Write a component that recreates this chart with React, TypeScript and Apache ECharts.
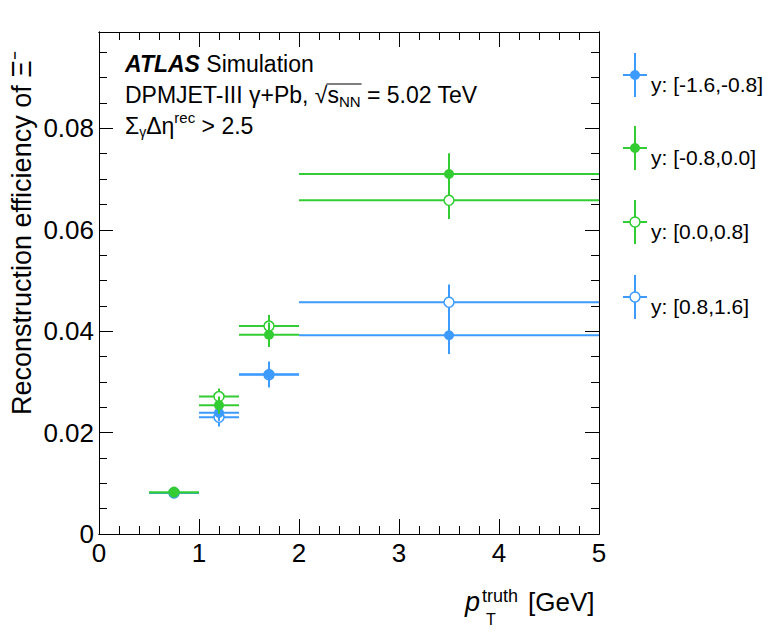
import React, { useEffect, useRef } from "react";
import * as echarts from "echarts";

// ---- data ----
const binCenter = [0.75, 1.2, 1.7, 3.5];
const binLow = [0.5, 1.0, 1.4, 2.0];
const binHigh = [1.0, 1.4, 2.0, 5.0];

const effBlueFilled = [0.0081, 0.0239, 0.0315, 0.0392];
const errBlueFilled = [0.0004, 0.0016, 0.0025, 0.0037];
const effGreenFilled = [0.0082, 0.0254, 0.0393, 0.071];
const errGreenFilled = [0.0004, 0.0017, 0.0024, 0.0041];
const effGreenOpen = [0.0082, 0.0271, 0.041, 0.0658];
const errGreenOpen = [0.0004, 0.0016, 0.0022, 0.0037];
const effBlueOpen = [0.0081, 0.023, 0.0314, 0.0457];
const errBlueOpen = [0.0004, 0.0018, 0.0025, 0.0035];

const legendLabels = ["y: [-1.6,-0.8]", "y: [-0.8,0.0]", "y: [0.0,0.8]", "y: [0.8,1.6]"];
const yTickLabels = ["0", "0.02", "0.04", "0.06", "0.08"];
const xTickLabels = ["0", "1", "2", "3", "4", "5"];

const BLUE = "#3d9bff";
const GREEN = "#33cc33";
const FONT = "'Liberation Sans', Arial, Helvetica, sans-serif";

type Sty = { name: string; eff: number[]; err: number[]; color: string; filled: boolean };
const legendSeries: Sty[] = [
  { name: legendLabels[0], eff: effBlueFilled, err: errBlueFilled, color: BLUE, filled: true },
  { name: legendLabels[1], eff: effGreenFilled, err: errGreenFilled, color: GREEN, filled: true },
  { name: legendLabels[2], eff: effGreenOpen, err: errGreenOpen, color: GREEN, filled: false },
  { name: legendLabels[3], eff: effBlueOpen, err: errBlueOpen, color: BLUE, filled: false },
];
// drawing order: open markers first, filled on top
const drawOrder = [3, 2, 0, 1];

let measureCtx: CanvasRenderingContext2D | null = null;
function textWidth(t: string, font: string) {
  if (!measureCtx) measureCtx = document.createElement("canvas").getContext("2d");
  measureCtx!.font = font;
  return measureCtx!.measureText(t).width;
}

type Piece = { t: string; size: number; italic?: boolean; bold?: boolean; dy?: number };
function fontOf(p: Piece) {
  return `${p.italic ? "italic" : "normal"} ${p.bold ? "bold" : "normal"} ${p.size}px ${FONT}`;
}
function textEl(t: string, font: string, size: number, x: number, baseline: number) {
  return {
    type: "text",
    x,
    y: baseline - 0.3465 * size,
    silent: true,
    style: {
      text: t,
      font,
      fill: "#000",
      align: "left",
      verticalAlign: "middle",
      textAlign: "left",
      textVerticalAlign: "middle",
    },
  };
}
function seq(pieces: Piece[], x0: number, baseline: number) {
  let x = x0;
  const els: any[] = [];
  const xs: number[] = [];
  for (const p of pieces) {
    const f = fontOf(p);
    xs.push(x);
    els.push(textEl(p.t, f, p.size, x, baseline + (p.dy || 0)));
    x += textWidth(p.t, f);
  }
  xs.push(x);
  return { els, xs };
}

export default function App() {
  const ref = useRef<HTMLDivElement>(null);
  useEffect(() => {
    if (!ref.current) return;
    const chart = echarts.init(ref.current, null, { renderer: "svg" });

    const graphics: any[] = [];
    // ATLAS Simulation
    graphics.push(
      ...seq(
        [
          { t: "ATLAS", size: 23, italic: true, bold: true },
          { t: " Simulation", size: 23 },
        ],
        125,
        72
      ).els
    );
    // DPMJET line
    const l2 = seq(
      [
        { t: "DPMJET-III γ+Pb, ", size: 23 },
        { t: "√", size: 23 },
        { t: "s", size: 23 },
        { t: "NN", size: 15, dy: 4 },
        { t: " = 5.02 TeV", size: 23 },
      ],
      125,
      103
    );
    graphics.push(...l2.els);
    graphics.push({
      type: "line",
      silent: true,
      shape: { x1: l2.xs[2] - 1, y1: 84, x2: l2.xs[4] + 1, y2: 84 },
      style: { stroke: "#000", lineWidth: 1.2 },
    });
    // Sigma line
    graphics.push(
      ...seq(
        [
          { t: "Σ", size: 23 },
          { t: "γ", size: 14, dy: 3 },
          { t: "Δη", size: 23 },
          { t: "rec", size: 15, dy: -11 },
          { t: " > 2.5", size: 23 },
        ],
        125,
        134
      ).els
    );
    // x-axis title
    graphics.push(textEl("p", fontOf({ t: "p", size: 27, italic: true }), 27, 465, 611));
    graphics.push(textEl("truth", fontOf({ t: "", size: 18 }), 18, 482, 602));
    graphics.push(textEl("T", fontOf({ t: "", size: 16 }), 16, 486, 625));
    graphics.push(textEl("[GeV]", fontOf({ t: "", size: 26 }), 26, 528, 611));
    // y-axis title (rotated)
    graphics.push({
      type: "text",
      x: 22,
      y: 415,
      rotation: Math.PI / 2,
      silent: true,
      style: {
        text: "Reconstruction efficiency of Ξ⁻",
        font: `normal normal 27px ${FONT}`,
        fill: "#000",
        align: "left",
        verticalAlign: "middle",
        textAlign: "left",
        textVerticalAlign: "middle",
      },
    });
    // legend
    const legY = [75, 148, 222, 297];
    legendSeries.forEach((s, i) => {
      const cx = 635;
      const cy = legY[i];
      graphics.push({
        type: "line",
        silent: true,
        shape: { x1: cx - 12, y1: cy, x2: cx + 12, y2: cy },
        style: { stroke: s.color, lineWidth: 2 },
      });
      graphics.push({
        type: "line",
        silent: true,
        shape: { x1: cx, y1: cy - 22, x2: cx, y2: cy + 22 },
        style: { stroke: s.color, lineWidth: 2 },
      });
      graphics.push({
        type: "circle",
        silent: true,
        shape: { cx, cy, r: 5 },
        style: s.filled
          ? { fill: s.color, stroke: s.color, lineWidth: 0 }
          : { fill: "#fff", stroke: s.color, lineWidth: 1.5 },
      });
      graphics.push(textEl(s.name, fontOf({ t: "", size: 21 }), 21, 651, cy + 17));
    });

    const tickStyle = { color: "#000", width: 1 };
    const baseAxis = {
      type: "value",
      splitLine: { show: false },
      axisLine: { show: true, onZero: false, lineStyle: { color: "#000", width: 1 } },
    };
    const xAxisCommon = { ...baseAxis, min: 0, max: 5 };
    const yAxisCommon = { ...baseAxis, min: 0, max: 0.099 };

    const series = drawOrder.map((idx) => {
      const s = legendSeries[idx];
      return {
        type: "custom",
        name: s.name,
        xAxisIndex: 0,
        yAxisIndex: 0,
        clip: true,
        data: binCenter.map((x, j) => [x, binLow[j], binHigh[j], s.eff[j], s.err[j]]),
        encode: { x: 0, y: 3 },
        renderItem: (params: any, api: any) => {
          const x = api.value(0);
          const xl = api.value(1);
          const xh = api.value(2);
          const y = api.value(3);
          const e = api.value(4);
          const c = api.coord([x, y]);
          const l = api.coord([xl, y]);
          const h = api.coord([xh, y]);
          const t = api.coord([x, y + e]);
          const b = api.coord([x, y - e]);
          return {
            type: "group",
            children: [
              {
                type: "line",
                shape: { x1: l[0], y1: l[1], x2: h[0], y2: h[1] },
                style: { stroke: s.color, lineWidth: 2 },
              },
              {
                type: "line",
                shape: { x1: c[0], y1: t[1], x2: c[0], y2: b[1] },
                style: { stroke: s.color, lineWidth: 2 },
              },
              {
                type: "circle",
                shape: { cx: c[0], cy: c[1], r: 5 },
                style: s.filled
                  ? { fill: s.color, stroke: s.color, lineWidth: 0 }
                  : { fill: "#fff", stroke: s.color, lineWidth: 1.5 },
              },
            ],
          };
        },
      };
    });

    chart.setOption({
      animation: false,
      backgroundColor: "#fff",
      grid: { left: 99, right: 174, top: 32, bottom: 102, containLabel: false },
      xAxis: [
        {
          ...xAxisCommon,
          position: "bottom",
          interval: 1,
          axisTick: { show: true, inside: true, length: 15, lineStyle: tickStyle },
          axisLabel: {
            show: true,
            color: "#000",
            fontSize: 26,
            fontFamily: FONT,
            margin: 6,
            formatter: (v: number) => {
              const i = Math.round(v);
              return Math.abs(v - i) < 1e-9 && xTickLabels[i] !== undefined ? xTickLabels[i] : "";
            },
          },
        },
        {
          ...xAxisCommon,
          position: "bottom",
          interval: 0.2,
          axisTick: { show: true, inside: true, length: 8, lineStyle: tickStyle },
          axisLabel: { show: false },
        },
        {
          ...xAxisCommon,
          position: "top",
          interval: 1,
          axisTick: { show: true, inside: true, length: 15, lineStyle: tickStyle },
          axisLabel: { show: false },
        },
        {
          ...xAxisCommon,
          position: "top",
          interval: 0.2,
          axisTick: { show: true, inside: true, length: 8, lineStyle: tickStyle },
          axisLabel: { show: false },
        },
      ],
      yAxis: [
        {
          ...yAxisCommon,
          position: "left",
          interval: 0.02,
          axisTick: { show: true, inside: true, length: 14, lineStyle: tickStyle },
          axisLabel: {
            show: true,
            showMaxLabel: false,
            color: "#000",
            fontSize: 26,
            fontFamily: FONT,
            margin: 5,
            formatter: (v: number) => {
              const i = Math.round(v / 0.02);
              return Math.abs(v - i * 0.02) < 1e-9 && yTickLabels[i] !== undefined ? yTickLabels[i] : "";
            },
          },
        },
        {
          ...yAxisCommon,
          position: "left",
          interval: 0.005,
          axisTick: { show: true, inside: true, length: 8, lineStyle: tickStyle },
          axisLabel: { show: false },
        },
        {
          ...yAxisCommon,
          position: "right",
          interval: 0.02,
          axisTick: { show: true, inside: true, length: 14, lineStyle: tickStyle },
          axisLabel: { show: false },
        },
        {
          ...yAxisCommon,
          position: "right",
          interval: 0.005,
          axisTick: { show: true, inside: true, length: 8, lineStyle: tickStyle },
          axisLabel: { show: false },
        },
      ],
      series,
      graphic: graphics,
    });

    return () => chart.dispose();
  }, []);

  return (
    <div
      ref={ref}
      style={{ position: "absolute", left: 0, top: 0, width: 773, height: 636, background: "#fff" }}
    />
  );
}
